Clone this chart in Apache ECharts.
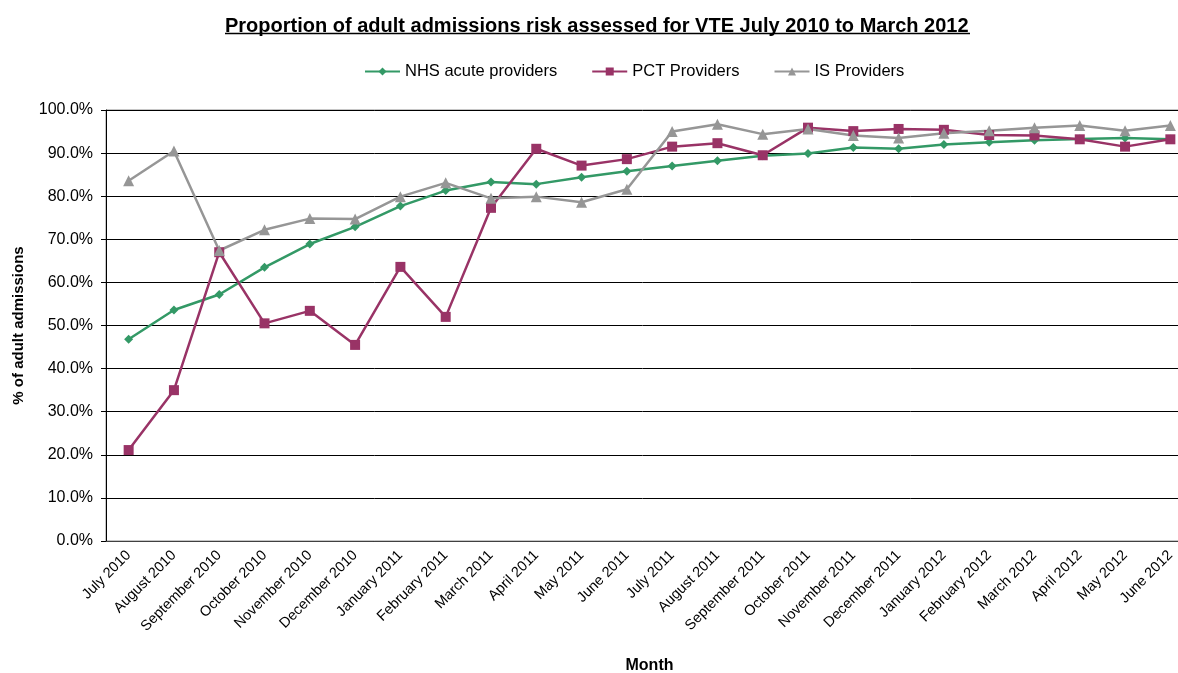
<!DOCTYPE html>
<html>
<head>
<meta charset="utf-8">
<script src="https://cdn.jsdelivr.net/npm/echarts@6/dist/echarts.min.js"></script>
<style>
  html, body { margin: 0; padding: 0; background: #fff; overflow: hidden; }
  #main { width: 1178px; height: 673px; }
</style>
</head>
<body>
<div id="main"></div>
<script>
var months = ['July 2010', 'August 2010', 'September 2010', 'October 2010', 'November 2010', 'December 2010',
    'January 2011', 'February 2011', 'March 2011', 'April 2011', 'May 2011', 'June 2011',
    'July 2011', 'August 2011', 'September 2011', 'October 2011', 'November 2011', 'December 2011',
    'January 2012', 'February 2012', 'March 2012', 'April 2012', 'May 2012', 'June 2012'];

var nhsAcute = [46.8, 53.6, 57.2, 63.5, 68.9, 72.9, 77.7, 81.3, 83.3, 82.8, 84.4, 85.8,
    87.0, 88.2, 89.4, 89.9, 91.3, 91.0, 92.0, 92.5, 93.0, 93.3, 93.5, 93.2];
var pctProviders = [21.1, 35.0, 67.0, 50.5, 53.4, 45.5, 63.6, 52.0, 77.3, 91.0, 87.1, 88.6,
    91.5, 92.3, 89.5, 95.9, 95.1, 95.6, 95.4, 94.2, 94.1, 93.2, 91.5, 93.2];
var isProviders = [83.6, 90.5, 67.4, 72.2, 74.8, 74.7, 79.9, 83.1, 79.5, 79.9, 78.6, 81.6,
    95.0, 96.7, 94.4, 95.6, 94.1, 93.5, 94.6, 95.2, 95.9, 96.4, 95.2, 96.4];

var yTicks = [0, 10, 20, 30, 40, 50, 60, 70, 80, 90, 100];

var font = 'Liberation Sans, Arial, sans-serif';

var chart = echarts.init(document.getElementById('main'));
var option = {
    animation: false,
    title: {
        text: 'Proportion of adult admissions risk assessed for VTE July 2010 to March 2012',
        left: 220,
        top: 11,
        textStyle: { fontFamily: font, fontSize: 20, fontWeight: 'bold', color: '#000' }
    },
    graphic: [{
        type: 'line',
        shape: { x1: 225, y1: 33.5, x2: 970, y2: 33.5 },
        style: { stroke: '#000', lineWidth: 1.5 }
    }],
    legend: {
        left: 359,
        top: 58,
        itemWidth: 35,
        itemHeight: 10,
        itemGap: 34,
        textStyle: { fontFamily: font, fontSize: 16.5, color: '#000' },
        data: ['NHS acute providers', 'PCT Providers', 'IS Providers']
    },
    grid: {
        left: 106,
        right: -15,
        top: 110,
        bottom: 132,
        outerBoundsMode: 'none',
        show: true,
        borderColor: '#8c8c8c',
        borderWidth: 1
    },
    xAxis: {
        type: 'category',
        data: months,
        boundaryGap: true,
        name: 'Month',
        nameLocation: 'middle',
        nameGap: 117,
        nameTextStyle: { fontFamily: font, fontSize: 16, fontWeight: 'bold', color: '#000' },
        axisLine: { lineStyle: { color: '#404040', width: 1 } },
        axisTick: { length: 5, lineStyle: { color: '#000' } },
        axisLabel: { rotate: 45, interval: 0, margin: 12, fontFamily: font, fontSize: 14.5, color: '#000' }
    },
    yAxis: {
        type: 'value',
        min: yTicks[0],
        max: yTicks[yTicks.length - 1],
        interval: yTicks[1] - yTicks[0],
        name: '% of adult admissions',
        nameLocation: 'middle',
        nameGap: 80,
        nameTextStyle: { fontFamily: font, fontSize: 15, fontWeight: 'bold', color: '#000' },
        axisLine: { show: true, lineStyle: { color: '#000', width: 1 } },
        axisTick: { show: true, length: 5, lineStyle: { color: '#000' } },
        axisLabel: {
            margin: 13,
            fontFamily: font, fontSize: 16, color: '#000',
            formatter: function (v) { return v.toFixed(1) + '%'; }
        },
        splitLine: { lineStyle: { color: '#000', width: 1 } }
    },
    series: [
        {
            name: 'NHS acute providers',
            type: 'line',
            data: nhsAcute,
            symbol: 'diamond',
            symbolSize: 9,
            itemStyle: { color: '#339966' },
            lineStyle: { color: '#339966', width: 2.5 }
        },
        {
            name: 'PCT Providers',
            type: 'line',
            data: pctProviders,
            symbol: 'rect',
            symbolSize: 10,
            itemStyle: { color: '#993366' },
            lineStyle: { color: '#993366', width: 2.5 }
        },
        {
            name: 'IS Providers',
            type: 'line',
            data: isProviders,
            symbol: 'triangle',
            symbolSize: 11,
            itemStyle: { color: '#969696' },
            lineStyle: { color: '#969696', width: 2.5 }
        }
    ]
};
chart.setOption(option);
</script>
</body>
</html>
